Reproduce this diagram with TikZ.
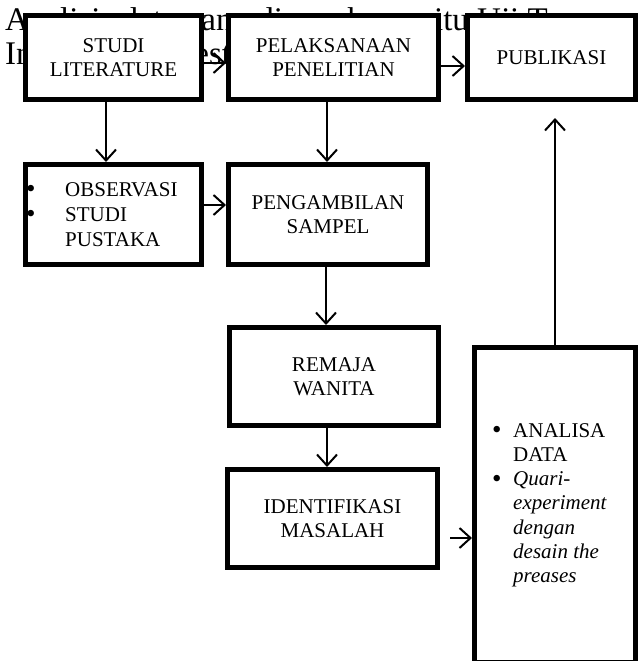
\documentclass[tikz,border=0pt]{standalone}
\usepackage{fontspec}
\setmainfont{Liberation Serif}
\usepackage{tikz}
\usetikzlibrary{arrows.meta}
\tikzset{% 
    kotak/.style={%
        draw, align = center, line width=5pt, fill = white, inner sep=0pt, font=\fontsize{21}{24.3}\selectfont
    }
}
\tikzset{% 
    isi/.style={%
        anchor=base west, inner sep=0pt, align=left
    }
}
\tikzstyle{panah}=[-{Straight Barb[length=11pt,width=20pt]}, line width=2pt]
\newcommand{\butir}{\raisebox{-1.5pt}{\fontsize{27}{0}\selectfont\textbullet}}

\begin{document}
\begin{tikzpicture}[x=1pt,y=-1pt]
  \useasboundingbox (0,0) rectangle (643,661);
  %
  \node[anchor=north west, inner sep=0pt, align=left, font=\fontsize{33}{34}\selectfont] (latar) at (5,7.4) {Analisis data yang digunakan yaitu Uji T\\Independent Test};
  %
  \node[kotak, minimum width=176pt, minimum height=84pt] (SL) at (113.5,57.5) {STUDI\\LITERATURE};
    \node[kotak, minimum width=210pt, minimum height=84pt] (PP) at (333.5,57.5) {PELAKSANAAN\\PENELITIAN};
      \node[kotak, minimum width=168pt, minimum height=84pt] (PUB) at (551.5,57.5) {PUBLIKASI};
  %
  \node[kotak, minimum width=176pt, minimum height=100pt] (OBS) at (113.5,214.5) {};
    \node[kotak, minimum width=199pt, minimum height=100pt] (PS) at (328,214.5) {PENGAMBILAN\\SAMPEL};
  \node[kotak, minimum width=209pt, minimum height=98pt] (RW) at (334,376.5) {REMAJA\\WANITA};
  \node[kotak, minimum width=210pt, minimum height=98pt] (IM) at (332.5,518.5) {IDENTIFIKASI\\MASALAH};
  \node[kotak, minimum width=161pt, minimum height=315pt] (AD) at (555,505) {};
  %
  \node[isi, font=\fontsize{21}{25}\selectfont] (OBSisi) at (26,196) {\begin{tabular}[t]{@{}p{39pt}@{}l@{}}\butir & OBSERVASI\\ \butir & STUDI\\ & PUSTAKA\end{tabular}};
  \node[isi, font=\fontsize{21}{24.3}\selectfont] (ADisi) at (492,437) {\begin{tabular}[t]{@{}p{21pt}@{}l@{}}\butir & ANALISA\\ & DATA\\ \butir & \textit{Quari-}\\ & \textit{experiment}\\ & \textit{dengan}\\ & \textit{desain the}\\ & \textit{preases}\end{tabular}};
  %
  \draw[panah] ([yshift=-5.5pt]SL.east) -- ([yshift=-5.5pt]PP.west);
  \draw[panah] ([yshift=-8.5pt]PP.east) -- ([yshift=-8.5pt]PUB.west);
  \draw[panah] ([xshift=-7.5pt]SL.south) -- ([xshift=-7.5pt]OBS.north);
  \draw[panah] ([xshift=-6.5pt]PP.south) -- ([xshift=-1pt]PS.north);
  \draw[panah] ([yshift=9.5pt]OBS.east) -- ([yshift=9.5pt]PS.west);
  \draw[panah] ([xshift=-2pt]PS.south) -- ([xshift=-8pt]RW.north);
  \draw[panah] ([xshift=-7pt]RW.south) -- ([xshift=-5.5pt]IM.north);
  \draw[panah] ([xshift=10pt,yshift=-19.5pt]IM.east) -- ([yshift=-33pt]AD.west);
  \draw[panah] (AD.north) -- ([xshift=3.5pt,yshift=-16pt]PUB.south);
\end{tikzpicture}
\end{document}
